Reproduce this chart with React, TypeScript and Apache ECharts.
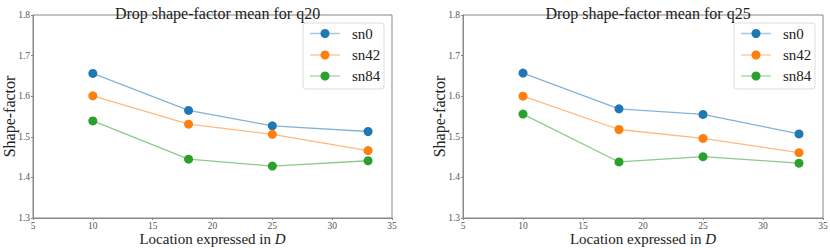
import React, { useEffect, useRef } from "react";
import * as echarts from "echarts";

const xLocations = [10, 18, 25, 33];
const seriesNames = ["sn0", "sn42", "sn84"];
const q20_sn0 = [1.656, 1.565, 1.527, 1.513];
const q20_sn42 = [1.601, 1.531, 1.506, 1.466];
const q20_sn84 = [1.539, 1.445, 1.428, 1.441];
const q25_sn0 = [1.657, 1.569, 1.555, 1.507];
const q25_sn42 = [1.6, 1.518, 1.496, 1.461];
const q25_sn84 = [1.556, 1.438, 1.451, 1.435];
const titles = ["Drop shape-factor mean for q20", "Drop shape-factor mean for q25"];
const colors = ["#1f77b4", "#ff7f0e", "#2ca02c"];

const FONT = "Liberation Serif";

export default function App() {
  const ref = useRef<HTMLDivElement>(null);
  useEffect(() => {
    const chart = echarts.init(ref.current!, null, { renderer: "svg" });
    const grids = [
      { left: 33, top: 15, width: 359, height: 203 },
      { left: 463, top: 15, width: 360, height: 203 },
    ];
    const data = [
      [q20_sn0, q20_sn42, q20_sn84],
      [q25_sn0, q25_sn42, q25_sn84],
    ];
    const series: any[] = [];
    data.forEach((group, gi) => {
      group.forEach((vals, si) => {
        series.push({
          type: "line",
          name: seriesNames[si],
          xAxisIndex: gi,
          yAxisIndex: gi,
          data: xLocations.map((x, i) => [x, vals[i]]),
          symbol: "circle",
          symbolSize: 9,
          color: colors[si],
          lineStyle: { width: 1.3, opacity: 0.55, color: colors[si] },
          itemStyle: { color: colors[si], opacity: 1 },
        });
      });
    });

    // legend boxes drawn as graphics (matplotlib style)
    const legendLefts = [303, 734];
    const legendTop = 23;
    const rowYs = [33.5, 55, 76];
    const graphics: any[] = [];
    legendLefts.forEach((lx) => {
      const children: any[] = [
        {
          type: "rect",
          shape: { x: 0, y: 0, width: 81, height: 66, r: 3 },
          style: { fill: "#fff", stroke: "#ddd", lineWidth: 1 },
        },
      ];
      seriesNames.forEach((n, si) => {
        const ry = rowYs[si] - legendTop;
        children.push({
          type: "line",
          shape: { x1: 7, y1: ry, x2: 37, y2: ry },
          style: { stroke: colors[si], lineWidth: 1.5, opacity: 0.4 },
        });
        children.push({
          type: "circle",
          shape: { cx: 22, cy: ry, r: 4.5 },
          style: { fill: colors[si] },
        });
        children.push({
          type: "text",
          x: 49,
          y: ry,
          style: {
            text: n,
            font: "normal normal 15px 'Liberation Serif', serif",
            fill: "#222",
            verticalAlign: "middle",
            align: "left",
          },
        });
      });
      graphics.push({ type: "group", x: lx, y: legendTop, z: 100, children });
    });

    const axisText = { fontFamily: FONT, color: "#555", fontSize: 9.5 };
    chart.setOption({
      animation: false,
      textStyle: { fontFamily: FONT },
      title: titles.map((t, i) => ({
        text: t,
        left: grids[i].left + grids[i].width / 2,
        textAlign: "center",
        top: 0,
        textStyle: { fontFamily: FONT, fontSize: 16, fontWeight: "normal", color: "#222" },
      })),
      graphic: graphics,
      grid: grids.map((g) => ({
        ...g,
        show: true,
        borderColor: "#888",
        borderWidth: 1,
        containLabel: false,
        outerBoundsMode: "none",
      })),
      xAxis: [0, 1].map((i) => ({
        type: "value",
        gridIndex: i,
        min: 5,
        max: 35,
        interval: 5,
        splitLine: { show: false },
        axisLine: { lineStyle: { color: "#888" } },
        axisTick: { length: 2, lineStyle: { color: "#888" } },
        axisLabel: { ...axisText, margin: 3 },
        name: "Location expressed in {i|D}",
        nameLocation: "middle",
        nameGap: 13,
        nameMoveOverlap: false,
        nameTextStyle: {
          fontFamily: FONT,
          fontSize: 15,
          color: "#222",
          rich: { i: { fontFamily: FONT, fontStyle: "italic", fontSize: 15, color: "#222" } },
        },
      })),
      yAxis: [0, 1].map((i) => ({
        type: "value",
        gridIndex: i,
        min: 1.3,
        max: 1.8,
        interval: 0.1,
        splitLine: { show: false },
        axisLine: { show: true, lineStyle: { color: "#888" } },
        axisTick: { show: true, length: 2, lineStyle: { color: "#888" } },
        axisLabel: { ...axisText, margin: 3, formatter: (v: number) => v.toFixed(1) },
        name: "Shape-factor",
        nameLocation: "middle",
        nameGap: 16,
        nameMoveOverlap: false,
        nameTextStyle: { fontFamily: FONT, fontSize: 16, color: "#222" },
      })),
      series,
    });
    return () => chart.dispose();
  }, []);
  return (
    <div
      ref={ref}
      style={{ position: "absolute", left: 0, top: 0, width: 830, height: 248 }}
    />
  );
}
